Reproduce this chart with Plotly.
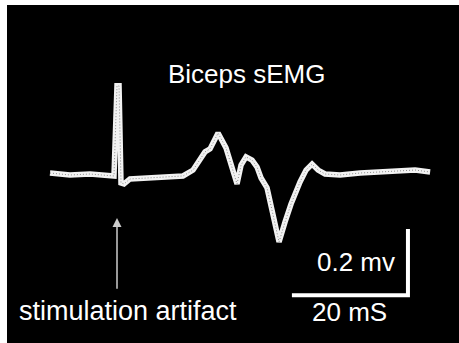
import plotly.graph_objects as go

# EMG trace (time in ms, amplitude in mV)
time_ms = [0, 3.45, 6.9, 10.69, 11.03, 11.55, 11.9, 12.24, 12.76, 13.79, 16.38, 18.97,
           22.93, 24.66, 25.86, 26.72, 27.59, 28.97, 30.34, 31.38, 32.24, 32.93, 33.79,
           34.83, 35.69, 36.38, 37.41, 38.45, 39.48, 40.52, 41.55, 43.1, 44.14, 45.17,
           46.21, 47.41, 50.0, 53.45, 56.9, 60.34, 62.93, 65.52]
amp_mv = [0.003, -0.003, 0.0, -0.006, -0.006, 0.267, 0.267, -0.027, -0.03, -0.015, -0.012,
          -0.009, -0.006, 0.012, 0.042, 0.067, 0.076, 0.124, 0.079, 0.018, -0.03, 0.027,
          0.052, 0.042, 0.021, -0.012, -0.042, -0.124, -0.206, -0.145, -0.091, -0.024,
          0.012, 0.03, 0.012, 0.0, -0.003, 0.003, 0.006, 0.009, 0.012, 0.006]

# Scale bar
bar_time_ms = 20
bar_amp_mv = 0.2
bar_corner = (61.7, -0.367)
bar_time_label = "20 mS"
bar_amp_label = "0.2 mv"

title_text = "Biceps sEMG"
artifact_label = "stimulation artifact"
artifact_tip = (11.55, -0.133)
artifact_tail_mv = -0.352

fig = go.Figure()
fig.add_trace(go.Scatter(x=time_ms, y=amp_mv, mode="lines",
                         line=dict(color="#f2f2f2", width=5.5), hoverinfo="skip"))
fig.add_trace(go.Scatter(x=time_ms, y=amp_mv, mode="lines",
                         line=dict(color="#8a8a8a", width=1, dash="1px,2px"), hoverinfo="skip"))

cx, cy = bar_corner
fig.add_trace(go.Scatter(x=[cx - bar_time_ms, cx, cx], y=[cy, cy, cy + bar_amp_mv],
                         mode="lines", line=dict(color="white", width=4), hoverinfo="skip"))

font = dict(family="Liberation Sans, Arial, sans-serif", color="white", size=26)
fig.add_annotation(x=34, y=0.303, text=title_text, showarrow=False, font=font,
                   xanchor="center", yanchor="middle")
fig.add_annotation(x=13.45, y=-0.415, text=artifact_label, showarrow=False,
                   font=dict(font, size=27), xanchor="center", yanchor="middle")
fig.add_annotation(x=cx - 1.9, y=cy + bar_amp_mv / 2, text=bar_amp_label, showarrow=False,
                   font=font, xanchor="right", yanchor="middle")
fig.add_annotation(x=cx - bar_time_ms / 2, y=-0.418, text=bar_time_label, showarrow=False,
                   font=font, xanchor="center", yanchor="middle")
fig.add_annotation(x=artifact_tip[0], y=artifact_tip[1], ax=artifact_tip[0], ay=artifact_tail_mv,
                   axref="x", ayref="y", xref="x", yref="y", text="", showarrow=True,
                   arrowhead=2, arrowsize=1.2, arrowwidth=1.5, arrowcolor="#cccccc")

fig.update_layout(
    width=459, height=343,
    margin=dict(l=7, r=0, t=5, b=0),
    paper_bgcolor="white", plot_bgcolor="black",
    showlegend=False,
    xaxis=dict(range=[-7.41, 70.5], visible=False, fixedrange=True),
    yaxis=dict(range=[-0.512, 0.512], visible=False, fixedrange=True),
)
fig.write_html("out.html")
